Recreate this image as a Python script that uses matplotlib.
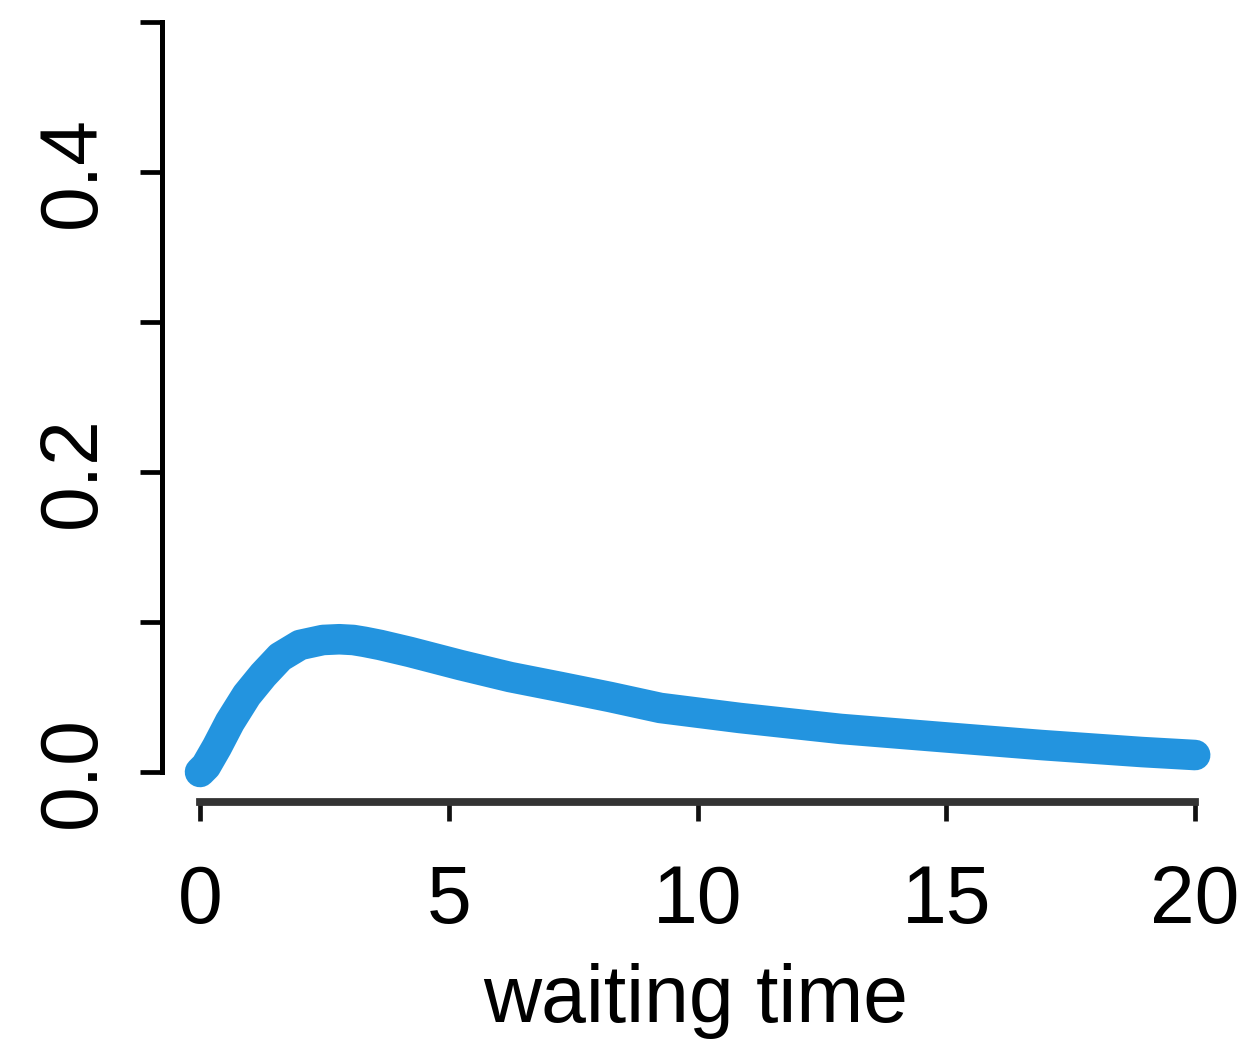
import matplotlib.pyplot as plt

# waiting time density curve
wait_x = [0, 0.12, 0.34, 0.6, 0.94, 1.27, 1.61, 2.01, 2.47, 2.8, 3.08, 3.3,
          3.62, 4.22, 5.23, 6.23, 7.24, 8.24, 9.25, 10.85, 12.88, 14.9,
          16.9, 18.93, 20.0]
density = [0, 0.004, 0.0167, 0.0333, 0.0513, 0.0647, 0.0767, 0.0847, 0.088,
           0.0885, 0.088, 0.0868, 0.0847, 0.080, 0.0713, 0.0633, 0.0567,
           0.050, 0.0427, 0.036, 0.0287, 0.0233, 0.018, 0.0133, 0.0113]

x_ticks = [0, 5, 10, 15, 20]
y_ticks = [0.0, 0.1, 0.2, 0.3, 0.4, 0.5]
y_labels = ["0.0", "", "0.2", "", "0.4", ""]

plt.rcParams["font.family"] = ["Liberation Sans", "DejaVu Sans"]

fig = plt.figure(figsize=(12.55, 10.52), dpi=100)
ax = fig.add_axes([162 / 1255, 250 / 1052, 1068 / 1255, 782 / 1052])

ax.plot(wait_x, density, color="#2394df", lw=22, solid_capstyle="round",
        solid_joinstyle="round", clip_on=False)

ax.set_xlim(-0.764, 20.7)
ax.set_ylim(-0.02, 0.5013)

for side in ["top", "right"]:
    ax.spines[side].set_visible(False)
ax.spines["left"].set_bounds(0, 0.5)
ax.spines["left"].set_linewidth(3.6)
ax.spines["bottom"].set_bounds(0, 20)
ax.spines["bottom"].set_linewidth(5.6)
ax.spines["bottom"].set_color("#333333")

ax.set_xticks(x_ticks)
ax.set_xticklabels([str(t) for t in x_ticks])
ax.set_yticks(y_ticks)
ax.set_yticklabels(y_labels)

ax.tick_params(axis="x", length=14, width=3.4, color="#111111", labelsize=58, pad=31)
ax.tick_params(axis="y", length=16, width=3.4, labelsize=58, pad=20)
for lab in ax.get_yticklabels():
    lab.set_rotation(90)
    lab.set_va("center")

ax.set_xlabel("waiting time", fontsize=58, labelpad=16)

fig.savefig("out.png", dpi=100)
